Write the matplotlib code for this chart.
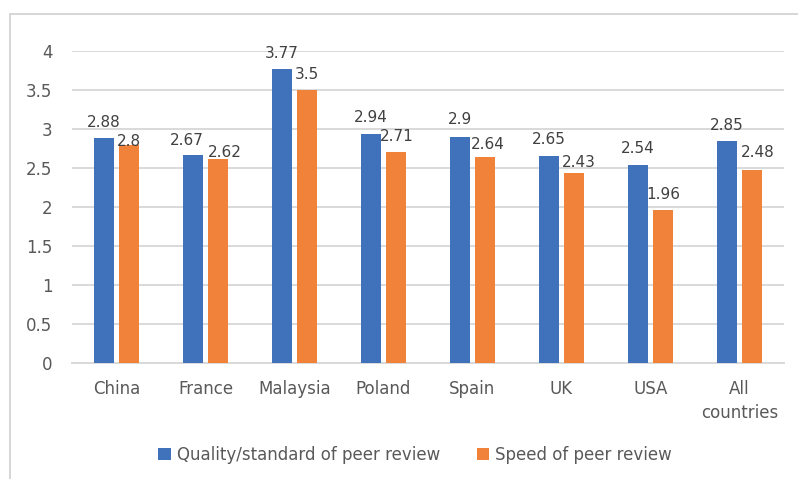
import numpy as np
import matplotlib.pyplot as plt
from matplotlib.patches import Rectangle

# Data
categories = ["China", "France", "Malaysia", "Poland", "Spain", "UK", "USA", "All\ncountries"]
quality = [2.88, 2.67, 3.77, 2.94, 2.9, 2.65, 2.54, 2.85]
speed = [2.8, 2.62, 3.5, 2.71, 2.64, 2.43, 1.96, 2.48]
series_names = ["Quality/standard of peer review", "Speed of peer review"]

# label nudges in pixels (dx, gap above bar top) -- layout only
quality_nudge = [(0, 11), (-6, 10), (0, 11), (0, 12), (0, 13), (0, 12), (0, 12), (0, 11)]
speed_nudge = [(0, -1), (6, 2), (0, 11), (0, 11), (2, 8), (4, 6), (0, 11), (5, 13)]

blue = "#3F72BA"
orange = "#F0823A"
text_col = "#595959"
grid_col = "#D9D9D9"

fig = plt.figure(figsize=(7.98, 4.79), dpi=100)
ax = fig.add_axes([72 / 798, 1 - 363 / 479, (784 - 72) / 798, (363 - 51) / 479])

# outer chart frame (only top and left visible in the reference)
fig.patches.append(Rectangle((10 / 798, -0.1), 1.2, 1 - 14 / 479 + 0.1,
                             transform=fig.transFigure, fill=False,
                             edgecolor="#D0D0D0", lw=1.2))

x = np.arange(len(categories))
w = 0.225
gap = 0.065
b1 = ax.bar(x - (w + gap) / 2, quality, w, color=blue, label=series_names[0], zorder=3)
b2 = ax.bar(x + (w + gap) / 2, speed, w, color=orange, label=series_names[1], zorder=3)

for bars, vals, nudge in ((b1, quality, quality_nudge), (b2, speed, speed_nudge)):
    for r, v, (dx, dy) in zip(bars, vals, nudge):
        ax.annotate(f"{v:g}", (r.get_x() + r.get_width() / 2, v),
                    xytext=(dx, dy), textcoords="offset pixels",
                    ha="center", va="baseline", fontsize=11, color="#404040")

ax.set_xlim(-0.5, len(categories) - 0.5)
ax.set_ylim(0, 4)
ax.set_yticks(np.arange(0, 4.01, 0.5))
ax.set_yticklabels([f"{t:g}" for t in np.arange(0, 4.01, 0.5)])
ax.set_xticks(x)
ax.set_xticklabels(categories)
ax.tick_params(axis="y", length=0, pad=14, labelsize=12, labelcolor=text_col)
ax.tick_params(axis="x", length=0, pad=12, labelsize=12, labelcolor=text_col)
for lbl in ax.get_xticklabels():
    lbl.set_linespacing(1.45)

ax.yaxis.grid(True, color=grid_col, lw=1.4, zorder=0)
ax.set_axisbelow(True)
for s in ("left", "right", "top"):
    ax.spines[s].set_visible(False)
ax.spines["bottom"].set_color(grid_col)
ax.spines["bottom"].set_linewidth(1.4)

fig.legend(handles=[b1, b2], loc="center", bbox_to_anchor=(415 / 798, 1 - 455 / 479),
           ncol=2, frameon=False, fontsize=12, handlelength=0.75, handleheight=0.75,
           handletextpad=0.35, columnspacing=2.2, labelcolor=text_col)

fig.savefig("out.png", dpi=100)
